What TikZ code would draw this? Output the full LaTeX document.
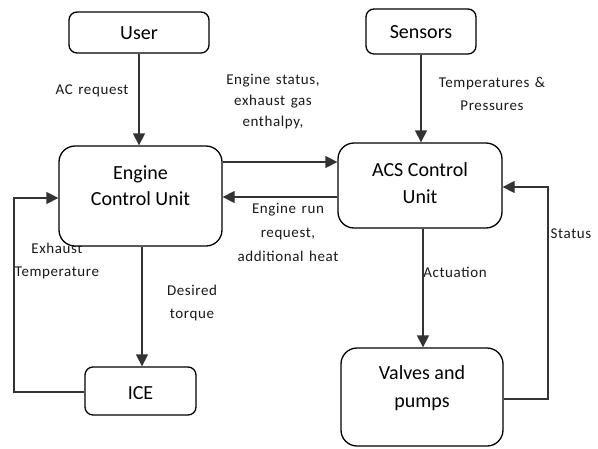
\documentclass[tikz,border=0pt]{standalone}
\usepackage{fontspec}
\setmainfont{Carlito}
\newfontfamily\lblfont[LetterSpace=4,WordSpace={1.4}]{Carlito}
\usetikzlibrary{arrows.meta}
\begin{document}
\begin{tikzpicture}[x=1pt,y=-1pt,
  box/.style={draw=black,line width=1.3pt,fill=white,rounded corners=#1,inner sep=0pt},
  box/.default=8pt,
  boxtext/.style={font=\fontsize{20}{26}\selectfont,align=center,inner sep=0pt},
  lbl/.style={font=\lblfont\fontsize{15}{21}\selectfont,align=center,inner sep=0pt,text=black!90},
  conn/.style={draw=black!80,line width=1.3pt,-{Triangle[length=12pt,width=12pt]}},
]
\useasboundingbox (0,0) rectangle (598,448);
% labels first (the boxes cover them where they overlap)
\node[lbl] (lac) at (92,91) {AC request};
\node[lbl] (les) at (273,102) {Engine status,\\exhaust gas\\enthalpy,};
\node[lbl,font=\lblfont\fontsize{15}{23}\selectfont] (ltp) at (492,93.5) {Temperatures \&\\Pressures};
\node[lbl,font=\lblfont\fontsize{15}{24}\selectfont] (ler) at (288,232) {Engine run\\request,\\additional heat};
\node[lbl,font=\lblfont\fontsize{15}{23}\selectfont] (lex) at (57,260.5) {Exhaust\\Temperature};
\node[lbl,font=\lblfont\fontsize{15}{23}\selectfont] (ldt) at (192,302.5) {Desired\\torque};
\node[lbl] (lact) at (455,272) {Actuation};
\node[lbl] (lst) at (571,234) {Status};
% boxes
\node[box,minimum width=140pt,minimum height=41pt] (user) at (139,32.5) {};
\node[boxtext] (usert) at (139,33) {User};
\node[box,minimum width=110pt,minimum height=45pt] (sens) at (421,31.5) {};
\node[boxtext] (senst) at (421,32) {Sensors};
\node[box=16pt,minimum width=163pt,minimum height=100pt] (ecu) at (140.5,196) {};
\node[boxtext] (ecut) at (140.5,186) {Engine\\Control Unit};
\node[box=16pt,minimum width=164pt,minimum height=85pt] (acs) at (420,185.5) {};
\node[boxtext,font=\fontsize{20}{27}\selectfont] (acst) at (420,183.5) {ACS Control\\Unit};
\node[box,minimum width=111pt,minimum height=48pt] (ice) at (140.5,391) {};
\node[boxtext] (icet) at (140.5,393) {ICE};
\node[box=16pt,minimum width=162pt,minimum height=98pt] (valv) at (422,397) {};
\node[boxtext,font=\fontsize{20}{28}\selectfont] (valvt) at (422,388) {Valves and\\pumps};
% connectors
\coordinate (c1) at (14,392);
\coordinate (c2) at (14,198);
\coordinate (c3) at (548,399);
\coordinate (c4) at (548,187);
\draw[conn] (user.south -| 139,0) -- (ecu.north -| 139,0);
\draw[conn] (sens.south -| 421,0) -- (acs.north -| 421,0);
\draw[conn] (ecu.east |- 0,162) -- (acs.west |- 0,162);
\draw[conn] (acs.west |- 0,197) -- (ecu.east |- 0,197);
\draw[conn] (ecu.south -| 142,0) -- (ice.north -| 142,0);
\draw[conn] (acs.south -| 423,0) -- (valv.north -| 423,0);
\draw[conn] (ice.west |- c1) -- (c1) -- (c2) -- (ecu.west |- c2);
\draw[conn] (valv.east |- c3) -- (c3) -- (c4) -- (acs.east |- c4);
\end{tikzpicture}
\end{document}
